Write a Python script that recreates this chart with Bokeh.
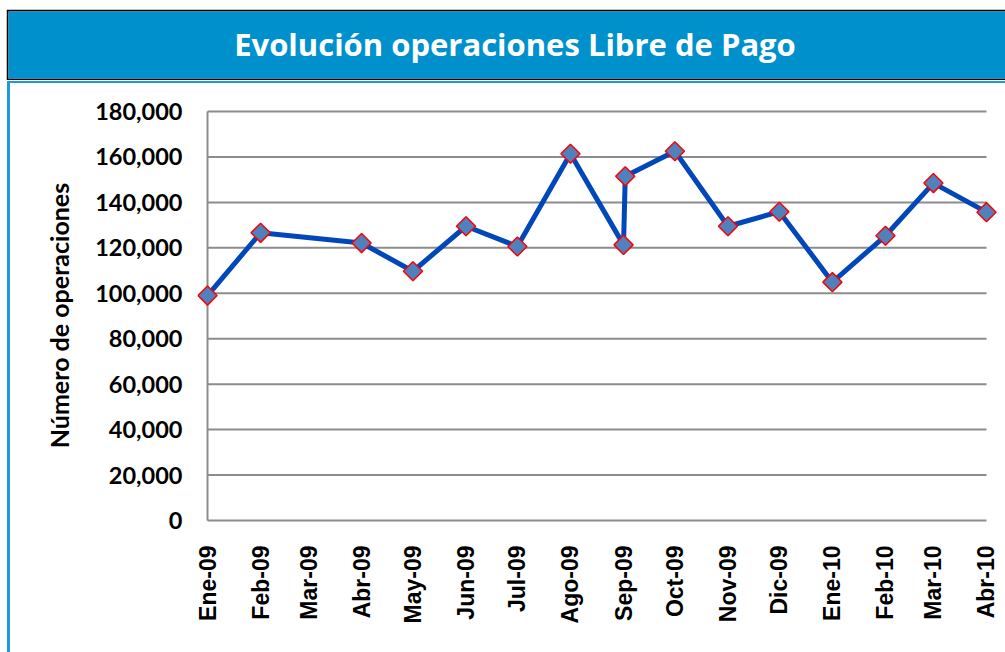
import pandas as pd
from bokeh.plotting import figure
from bokeh.layouts import column, row
from bokeh.models import FixedTicker, NumeralTickFormatter, ColumnDataSource, Range1d, Spacer
from bokeh.core.properties import value
from bokeh.embed import file_html
from bokeh.resources import INLINE

# ---------------- data ----------------
title_text = "Evolución operaciones Libre de Pago"
y_axis_title = "Número de operaciones"

fechas = ["2009-01-01", "2009-02-01", "2009-04-01", "2009-05-01", "2009-06-01",
          "2009-07-01", "2009-08-01", "2009-09-01", "2009-09-02", "2009-10-01",
          "2009-11-01", "2009-12-01", "2010-01-01", "2010-02-01", "2010-03-01",
          "2010-04-01"]
operaciones = [99000, 126600, 122100, 109700, 129500,
               120600, 161400, 121300, 151500, 162500,
               129500, 135900, 104900, 125300, 148500,
               135700]

tick_fechas = ["2009-01-01", "2009-02-01", "2009-03-01", "2009-04-01", "2009-05-01",
               "2009-06-01", "2009-07-01", "2009-08-01", "2009-09-01", "2009-10-01",
               "2009-11-01", "2009-12-01", "2010-01-01", "2010-02-01", "2010-03-01",
               "2010-04-01"]
month_labels = ["Ene-09", "Feb-09", "Mar-09", "Abr-09", "May-09", "Jun-09", "Jul-09",
                "Ago-09", "Sep-09", "Oct-09", "Nov-09", "Dic-09", "Ene-10", "Feb-10",
                "Mar-10", "Abr-10"]
y_ticks = [0, 20000, 40000, 60000, 80000, 100000, 120000, 140000, 160000, 180000]

# ---------------- helpers ----------------
def ms(d):
    return int(pd.Timestamp(d).value // 10**6)

tick_ms = [ms(d) for d in tick_fechas]
t_first, t_last = tick_ms[0], tick_ms[-1]
span = t_last - t_first
y_top = y_ticks[-1]

GRID = "#8c8c8c"
FRAME_BLUE = "#1E9AD6"

# ---------------- banner ----------------
banner = figure(width=999, height=71, x_range=(0, 997), y_range=(0, 67),
                x_axis_location=None, y_axis_location=None, toolbar_location=None,
                output_backend="svg", outline_line_color=None,
                min_border_top=2, min_border_bottom=2, min_border_left=2, min_border_right=0,
                border_fill_color="black", background_fill_color="#0091CD")
banner.grid.visible = False
banner.text(x=[506.5], y=[35], text=[title_text], text_color="white",
            text_font=value("Open Sans"), text_font_style="bold", text_font_size="31px",
            text_align="center", text_baseline="alphabetic")

# ---------------- chart ----------------
x_range = Range1d(t_first - span * 10 / 778.5, t_last + span * 14 / 778.5)
y_range = Range1d(-y_top * 10 / 409, y_top + y_top * 11 / 409)

p = figure(width=995, height=569, x_axis_type="datetime",
           x_range=x_range, y_range=y_range,
           toolbar_location=None, output_backend="svg",
           min_border_left=187, min_border_right=5, min_border_top=17, min_border_bottom=122,
           outline_line_color=None, background_fill_color="white", border_fill_color="white")
p.grid.visible = False

n_grid = len(y_ticks) - 1
grid_src = ColumnDataSource(dict(x0=[t_first] * n_grid, x1=[t_last] * n_grid, y=y_ticks[1:]))
p.segment(x0="x0", x1="x1", y0="y", y1="y", source=grid_src,
          line_color=GRID, line_width=2)
# plot-area border lines at the first date and at zero
p.segment(x0=[t_first], x1=[t_first], y0=[y_ticks[0]], y1=[y_top],
          line_color=GRID, line_width=2)
p.segment(x0=[t_first], x1=[t_last], y0=[y_ticks[0]], y1=[y_ticks[0]],
          line_color=GRID, line_width=2)

src = ColumnDataSource(dict(fecha=pd.to_datetime(fechas), ops=operaciones))
p.line(x="fecha", y="ops", source=src, line_color="#0048BA", line_width=5,
       line_join="round")
p.scatter(x="fecha", y="ops", source=src, marker="square", size=13.5, angle=0.7853981634,
          fill_color="#4F81BD", line_color="#FF0000", line_width=1.5)

xa = p.xaxis[0]
xa.ticker = FixedTicker(ticks=tick_ms)
xa.major_label_overrides = dict(zip(tick_ms, month_labels))
xa.major_label_orientation = 1.5707963268
xa.axis_line_color = None
xa.major_tick_in = 0
xa.major_tick_out = 0
xa.minor_tick_in = 0
xa.minor_tick_out = 0
xa.major_label_standoff = 15
xa.major_label_text_font = "Liberation Sans"
xa.major_label_text_font_style = "bold"
xa.major_label_text_font_size = "23px"
xa.major_label_text_color = "black"

ya = p.yaxis[0]
ya.ticker = FixedTicker(ticks=y_ticks)
ya.formatter = NumeralTickFormatter(format="0,0")
ya.axis_line_color = None
ya.major_tick_in = 0
ya.major_tick_out = 0
ya.minor_tick_in = 0
ya.minor_tick_out = 0
ya.major_label_standoff = 15
ya.major_label_text_font = "Lato"
ya.major_label_text_font_style = "bold"
ya.major_label_text_font_size = "23.5px"
ya.major_label_text_color = "black"
ya.axis_label = y_axis_title
ya.axis_label_text_font = "Lato"
ya.axis_label_text_font_style = "bold"
ya.axis_label_text_font_size = "25px"
ya.axis_label_text_color = "black"
ya.axis_label_standoff = 18

layout = column(
    Spacer(width=1005, height=9),
    row(Spacer(width=6, height=71), banner, spacing=0),
    Spacer(width=1005, height=1),
    row(Spacer(width=7, height=2),
        Spacer(width=998, height=2, styles={"background-color": FRAME_BLUE}), spacing=0),
    row(Spacer(width=7, height=569),
        Spacer(width=3, height=569, styles={"background-color": FRAME_BLUE}),
        p, spacing=0),
    spacing=0,
)

open("out.html", "w").write(file_html(layout, INLINE))
